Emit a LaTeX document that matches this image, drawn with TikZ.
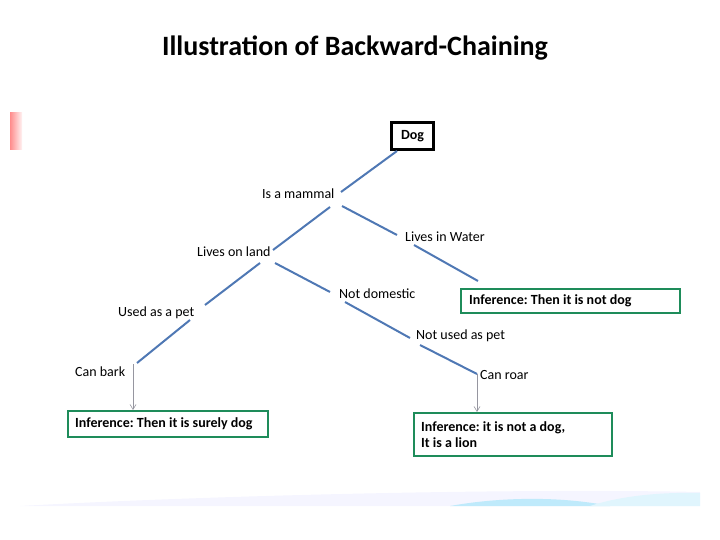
\documentclass[tikz,border=0pt]{standalone}
\usepackage{fontspec}
\setmainfont{Carlito}
\usetikzlibrary{arrows.meta}
\definecolor{branch}{RGB}{79,120,180}
\definecolor{infgreen}{RGB}{30,140,90}
\definecolor{thin}{RGB}{150,150,160}
\begin{document}
\frenchspacing
\begin{tikzpicture}[x=1pt,y=-1pt,
  lbl/.style={font=\fontsize{14}{16}\selectfont, inner sep=0pt, anchor=west, yshift=-1pt},
  branchline/.style={draw=branch, line width=2pt},
  infbox/.style={draw=infgreen, line width=2pt, anchor=north west, inner sep=0pt},
  inftext/.style={font=\frenchspacing\bfseries\fontsize{14}{16}\selectfont, align=left, anchor=west, inner sep=0pt},
  thinarrow/.style={draw=thin, line width=0.6pt, -{Straight Barb[length=5pt,width=6pt]}}]
\useasboundingbox (0,0) rectangle (720,540);
% decorations
\shade[left color=red!45, right color=red!5] (10,113) rectangle (22,150);
\fill[blue!4] (20,506) .. controls (200,496) and (500,488) .. (700,492) -- (700,506) -- cycle;
\fill[cyan!25] (450,506) .. controls (500,497) and (560,496) .. (610,506) -- cycle;
\fill[cyan!12] (590,506) .. controls (620,496) and (660,492) .. (700,493) -- (700,506) -- cycle;
% title
\node[font=\bfseries\fontsize{28}{32}\selectfont, inner sep=0pt] (title) at (355,48) {Illustration of Backward-Chaining};
% nodes
\node[draw=black, line width=2.4pt, font=\bfseries\fontsize{14}{16}\selectfont, minimum width=42pt, minimum height=27pt, inner sep=0pt] (dog) at (412.5,136) {Dog};
\node[lbl] (mammal) at (262,193) {Is a mammal};
\node[lbl] (water) at (405,236) {Lives in Water};
\node[lbl] (land) at (197,251) {Lives on land};
\node[lbl] (notdom) at (339,293) {Not domestic};
\node[lbl] (pet) at (118,312) {Used as a pet};
\node[lbl] (notpet) at (416,335) {Not used as pet};
\node[lbl] (bark) at (75,371) {Can bark};
\node[lbl] (roar) at (480,374) {Can roar};
% inference boxes
\node[infbox, minimum width=219pt, minimum height=24pt] (infnot) at (460,288) {};
\node[inftext] (infnot-t) at ([xshift=9pt]infnot.west) {Inference: Then it is not dog};
\node[infbox, minimum width=200pt, minimum height=26pt] (infsure) at (67,410) {};
\node[inftext] (infsure-t) at ([xshift=8pt]infsure.west) {Inference: Then it is surely dog};
\node[infbox, minimum width=198pt, minimum height=43pt] (inflion) at (413,412) {};
\node[inftext] (inflion-t) at ([xshift=8pt]inflion.west) {Inference: it is not a dog,\\It is a lion};
% coordinates for branch ends
\coordinate (a1) at (397,151); \coordinate (a2) at (341,192);
\coordinate (b1) at (330,207); \coordinate (b2) at (273,250);
\coordinate (c1) at (342,206); \coordinate (c2) at (397,235);
\coordinate (d1) at (414,245); \coordinate (d2) at (478,281);
\coordinate (e1) at (260,263); \coordinate (e2) at (205,305);
\coordinate (f1) at (190,320); \coordinate (f2) at (137,363);
\coordinate (g1) at (275,263); \coordinate (g2) at (330,292);
\coordinate (h1) at (345,302); \coordinate (h2) at (410,338);
\coordinate (i1) at (420,345); \coordinate (i2) at (477,374);
\draw[branchline] (a1) -- (a2);
\draw[branchline] (b1) -- (b2);
\draw[branchline] (c1) -- (c2);
\draw[branchline] (d1) -- (d2);
\draw[branchline] (e1) -- (e2);
\draw[branchline] (f1) -- (f2);
\draw[branchline] (g1) -- (g2);
\draw[branchline] (h1) -- (h2);
\draw[branchline] (i1) -- (i2);
% arrows
\coordinate (j1) at (133,364);
\coordinate (k1) at (477,374);
\draw[thinarrow] (j1) -- (infsure.north west -| j1);
\draw[thinarrow] (k1) -- (inflion.north west -| k1);
\end{tikzpicture}
\end{document}
